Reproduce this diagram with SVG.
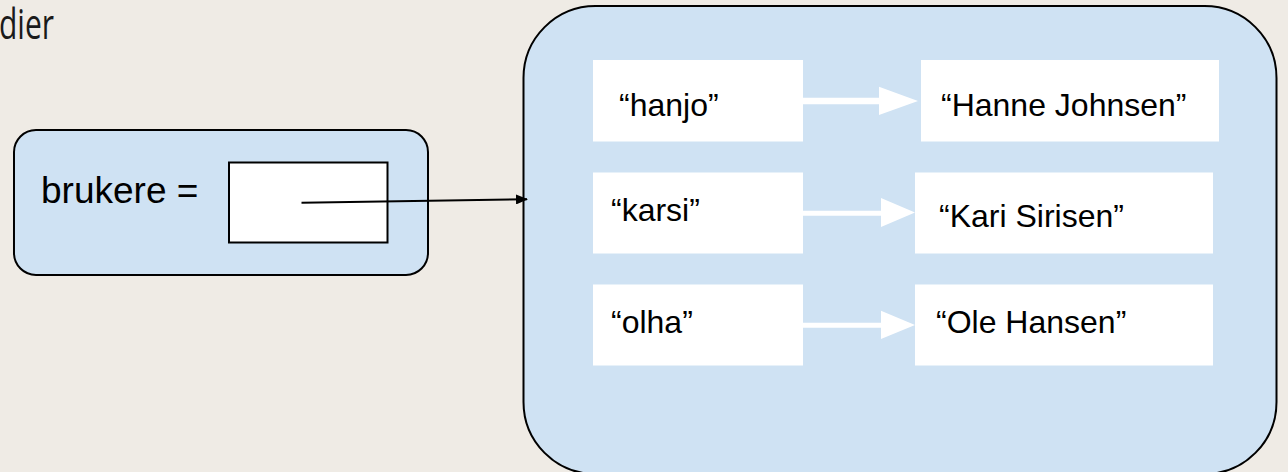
<svg xmlns="http://www.w3.org/2000/svg" width="1288" height="472" viewBox="0 0 1288 472">
<style>
.bg{fill:#efebe5}
.blue{fill:#cfe2f3;stroke:#000;stroke-width:2}
.cell{fill:#fff}
.t{font-family:"Liberation Sans",Arial,sans-serif;font-size:32px;fill:#000}
.wa{fill:#fff}
</style>
<defs>
<marker id="ah" markerWidth="12" markerHeight="10" refX="11" refY="5" orient="auto" markerUnits="userSpaceOnUse">
<path d="M0,0 L12,5 L0,10 Z" fill="#000"/>
</marker>
</defs>
<rect class="bg" x="0" y="0" width="1288" height="472"/>
<text x="-1" y="39" font-family="'Open Sans',sans-serif" font-size="42" fill="#1a1a1a" textLength="55" lengthAdjust="spacingAndGlyphs">dier</text>
<g id="var">
<rect class="blue" x="14" y="130" width="414" height="145" rx="22"/>
<text class="t" x="41" y="203" style="font-size:37px">brukere =</text>
<rect x="229" y="162.5" width="158.5" height="80" fill="#fff" stroke="#000" stroke-width="2"/>
</g>
<g id="dict">
<rect class="blue" x="523.5" y="6" width="753" height="468" rx="72"/>
</g>
<g id="k1"><rect class="cell" x="593" y="60" width="210" height="81.5"/><text class="t" x="619" y="116">“hanjo”</text></g>
<g id="v1"><rect class="cell" x="921" y="60" width="298" height="81.5"/><text class="t" x="941" y="116">“Hanne Johnsen”</text></g>
<g id="k2"><rect class="cell" x="593" y="172.5" width="210" height="81"/><text class="t" x="611" y="221">“karsi”</text></g>
<g id="v2"><rect class="cell" x="915" y="172.5" width="298" height="81"/><text class="t" x="939" y="227">“Kari Sirisen”</text></g>
<g id="k3"><rect class="cell" x="593" y="284.5" width="210" height="81"/><text class="t" x="611" y="333">“olha”</text></g>
<g id="v3"><rect class="cell" x="915" y="284.5" width="298" height="81"/><text class="t" x="936" y="333">“Ole Hansen”</text></g>
<g id="connectors">
<line x1="301.5" y1="202.7" x2="527" y2="199.3" stroke="#000" stroke-width="2" marker-end="url(#ah)"/>
<path class="wa" d="M803,97.7 H879 V86.7 L918,101 L879,115 V104.3 H803 Z"/>
<path class="wa" d="M803,210.8 H881 V198 L915,212.5 L881,227 V215.7 H803 Z"/>
<path class="wa" d="M803,322.8 H881 V310.7 L915,325 L881,339 V327.7 H803 Z"/>
</g>
</svg>
